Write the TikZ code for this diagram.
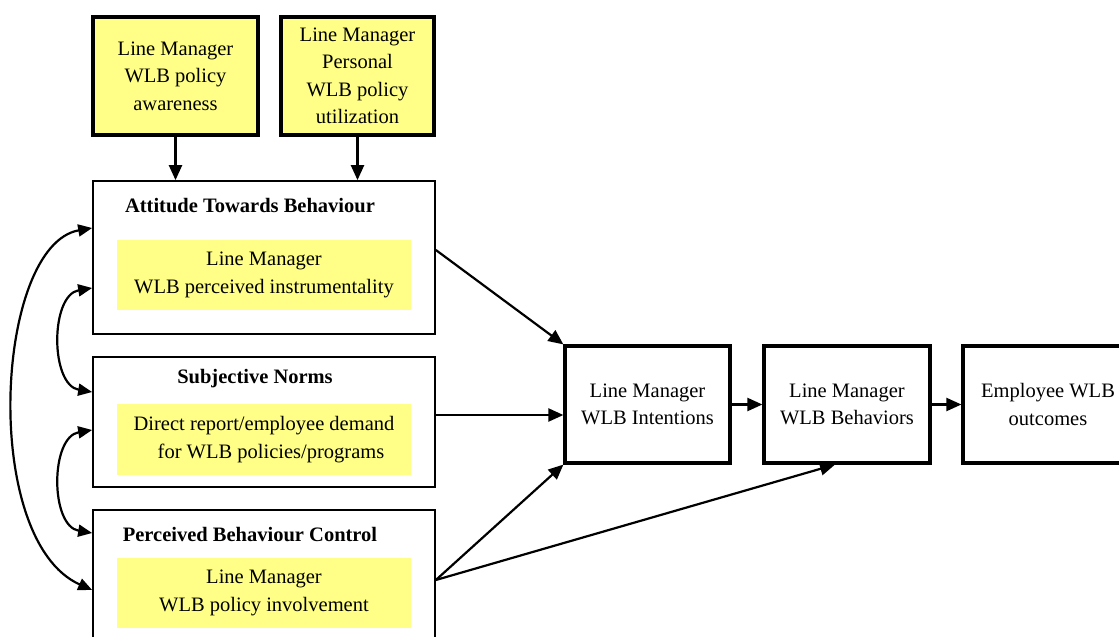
\documentclass[tikz,border=0pt]{standalone}
\usepackage{fontspec}
\setmainfont{Liberation Serif}
\usetikzlibrary{arrows.meta}
\definecolor{ylw}{HTML}{FFFF88}
\tikzset{
  thickbox/.style={draw, line width=3.4pt, fill=ylw, align=center, inner sep=0pt},
  whitebox/.style={draw, line width=3.2pt, fill=white, align=center, inner sep=0pt},
  framebox/.style={draw, line width=1.7pt, fill=white, inner sep=0pt},
  innerbox/.style={fill=ylw, align=center, inner sep=0pt},
  titletxt/.style={font=\fontsize{20.5}{24}\selectfont\bfseries, inner sep=0pt},
  conn/.style={line width=2.2pt, -{Triangle[length=15pt,width=13pt]}},
  bconn/.style={line width=2.2pt, {Triangle[length=14pt,width=12pt]}-{Triangle[length=14pt,width=12pt]}}
}
\begin{document}
\begin{tikzpicture}[x=1pt,y=-1pt, font=\fontsize{20.5}{27.5}\selectfont]
\useasboundingbox (0,0) rectangle (1119,637);
\clip (0,0) rectangle (1119,637);
% top boxes
\node[thickbox, minimum width=165pt, minimum height=118pt] (tb1) at (175.5,76) {Line Manager\\WLB policy\\awareness};
\node[thickbox, minimum width=153pt, minimum height=118pt] (tb2) at (357.5,76) {Line Manager\\Personal\\WLB policy\\utilization};
% left column
\node[framebox, minimum width=342pt, minimum height=153pt] (att) at (264,257.5) {};
\node[titletxt] (attT) at (250,206) {Attitude Towards Behaviour};
\node[innerbox, minimum width=294pt, minimum height=70pt] (attI) at (264,275) {Line Manager\\WLB perceived instrumentality};

\node[framebox, minimum width=342pt, minimum height=130pt] (sn) at (264,422) {};
\node[titletxt] (snT) at (255,379) {Subjective Norms};
\node[innerbox, minimum width=294pt, minimum height=71pt] (snI) at (264,439.5) {Direct report/employee demand\\\hspace*{14pt}for WLB policies/programs};

\node[framebox, minimum width=342pt, minimum height=150pt] (pbc) at (264,585) {};
\node[titletxt] (pbcT) at (250,535) {Perceived Behaviour Control};
\node[innerbox, minimum width=294pt, minimum height=70pt] (pbcI) at (264,593) {Line Manager\\WLB policy involvement};
% right chain
\node[whitebox, minimum width=165pt, minimum height=117pt] (int) at (647.5,404.5) {Line Manager\\WLB Intentions};
\node[whitebox, minimum width=166pt, minimum height=117pt] (beh) at (847,404.5) {Line Manager\\WLB Behaviors};
\node[whitebox, minimum width=170pt, minimum height=117pt] (emp) at (1048,404.5) {Employee WLB\\outcomes};
% connectors
\draw[conn] (tb1.south) -- (tb1.south |- att.north);
\draw[conn] (tb2.south) -- (tb2.south |- att.north);
\draw[conn] ([yshift=7.5pt]att.east) -- (int.north west);
\draw[conn] ([yshift=7pt]sn.east) -- ([yshift=7pt]sn.east -| int.west);
\draw[conn] ([yshift=5pt]pbc.east) -- (int.south west);
\draw[conn] ([yshift=5pt]pbc.east) -- ([xshift=-12pt]beh.south);
\draw[conn] (int.east) -- (beh.west);
\draw[conn] (beh.east) -- (emp.west);
% curved correlations
\draw[bconn] ([yshift=29.5pt]att.west) .. controls (-5,245) and (-20,540) .. ([yshift=-5pt]pbc.west);
\draw[bconn] ([yshift=-30.5pt]att.west) .. controls (50,295) and (50,385) .. ([yshift=30pt]sn.west);
\draw[bconn] ([yshift=-8pt]sn.west) .. controls (50,437) and (50,526) .. ([yshift=52pt]pbc.west);
\end{tikzpicture}
\end{document}
